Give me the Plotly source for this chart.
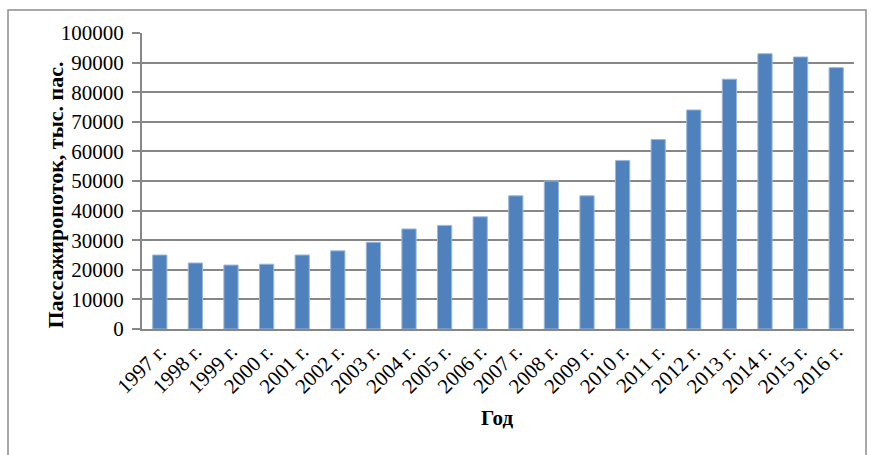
import plotly.graph_objects as go

# Passenger traffic by year, thousand passengers
years = ["1997 г.", "1998 г.", "1999 г.", "2000 г.", "2001 г.", "2002 г.", "2003 г.",
         "2004 г.", "2005 г.", "2006 г.", "2007 г.", "2008 г.", "2009 г.", "2010 г.",
         "2011 г.", "2012 г.", "2013 г.", "2014 г.", "2015 г.", "2016 г."]
traffic = [25000, 22300, 21600, 21900, 25000, 26400, 29300,
           33800, 35000, 37900, 45000, 50000, 45000, 56900,
           64000, 74000, 84400, 93000, 91900, 88300]
y_ticks = [0, 10000, 20000, 30000, 40000, 50000, 60000, 70000, 80000, 90000, 100000]

W, H = 871, 455
L, R, T, B = 142, 17, 33, 126
pw, ph = W - L - R, H - T - B

font_family = "Liberation Serif, Times New Roman, serif"
grid_col = "#878787"

fig = go.Figure(go.Bar(
    x=years, y=traffic, width=0.4,
    marker=dict(color="#4F81BD", line=dict(color="#9DB7DA", width=1)),
))

fig.update_layout(
    width=W, height=H,
    margin=dict(l=L, r=R, t=T, b=B),
    paper_bgcolor="white", plot_bgcolor="white",
    showlegend=False,
    font=dict(family=font_family, size=21, color="black"),
    xaxis=dict(
        type="category", tickangle=-45, showgrid=False,
        showline=True, linecolor=grid_col, linewidth=2,
        ticks="", tickfont=dict(size=21),
    ),
    yaxis=dict(
        range=[0, 100000], tickvals=y_ticks, ticktext=[str(v) for v in y_ticks],
        showgrid=True, gridcolor=grid_col, gridwidth=2,
        showline=True, linecolor=grid_col, linewidth=2,
        ticks="outside", ticklen=8, tickcolor=grid_col, tickwidth=2,
        ticklabelstandoff=4,
        zeroline=False, tickfont=dict(size=21),
    ),
)

def px_x(px):
    return (px - L) / pw

def px_y(py):
    return (H - B - py) / ph

# axis titles
fig.add_annotation(text="<b>Год</b>", xref="paper", yref="paper",
                   x=px_x(497), y=px_y(432), showarrow=False,
                   font=dict(size=21, family=font_family))
fig.add_annotation(text="<b>Пассажиропоток, тыс. пас.</b>", xref="paper", yref="paper",
                   x=px_x(40), y=px_y(195), showarrow=False, textangle=-90,
                   font=dict(size=22, family=font_family))

# chart frame
fig.add_shape(type="rect", xref="paper", yref="paper",
              x0=px_x(8), x1=px_x(866), y0=px_y(470), y1=px_y(10),
              line=dict(color="#8C8C8C", width=1.5), layer="below")

fig.write_html("out.html")
